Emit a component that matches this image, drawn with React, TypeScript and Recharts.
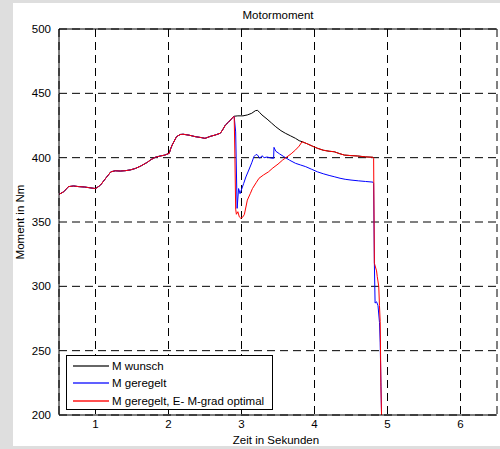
import React from 'react';
import { LineChart, Line, XAxis, YAxis, CartesianGrid, Legend } from 'recharts';

// shared part of all three curves (they lie on top of each other up to ~2.9 s)
const commonZeit = [
  0.5, 0.565, 0.63, 0.7, 0.77, 0.85, 0.91, 1.0, 1.04, 1.07, 1.14, 1.21, 1.27, 1.34, 1.41, 1.48, 1.55, 1.62,
  1.71, 1.76, 1.82, 1.88, 1.95, 2.01, 2.03, 2.05, 2.11, 2.16, 2.2, 2.28, 2.37, 2.45, 2.5, 2.57, 2.64, 2.71,
  2.74, 2.78, 2.82, 2.85, 2.89,
];
const commonMoment = [
  371.5, 373.5, 377.5, 378, 377.5, 377.2, 376.7, 376, 377.5, 378.8, 384, 389, 389.8, 389.6, 389.9, 390.5, 391.7, 393.5,
  396.4, 398.5, 400.3, 401.2, 402, 403.4, 407, 409.8, 416.3, 418, 418.2, 417.5, 416.3, 415.6, 415, 416.5, 417.6, 419,
  421.5, 425.4, 427.5, 429.3, 431.9,
];

// M wunsch after the split
const wunschZeit = [2.9, 2.95, 3.02, 3.08, 3.14, 3.19, 3.22, 3.25, 3.28, 3.35, 3.41, 3.47, 3.54, 3.6, 3.67, 3.74, 3.79, 3.83];
const wunschMoment = [432.2, 432.5, 432.5, 433.2, 434.5, 436.5, 436.8, 435, 433.2, 430, 427, 424, 421, 419, 417, 415, 413.2, 412.4];

// M geregelt after the split
const geregeltZeit = [
  2.9, 2.92, 2.94, 2.96, 2.98, 3.03, 3.06, 3.1, 3.14, 3.17, 3.2, 3.22, 3.25, 3.28, 3.31, 3.35, 3.4, 3.44, 3.445,
  3.47, 3.52, 3.58, 3.66, 3.74, 3.81, 3.88, 3.96, 4.04, 4.12, 4.2, 4.27, 4.35, 4.42, 4.5, 4.6, 4.7, 4.8,
  4.81, 4.82, 4.83, 4.85, 4.87, 4.89, 4.9, 4.91, 4.92,
];
const geregeltMoment = [
  431.9, 420, 360.6, 376, 372, 380, 385, 390.4, 396, 400.8, 402.5, 402, 399.5, 401.5, 400, 400.5, 399.8, 399.5, 408,
  405, 403, 400.8, 398, 395.6, 394.3, 393, 391, 389, 387.5, 386.2, 385.2, 384, 383.2, 382.6, 382, 381.5, 381,
  380, 318, 287, 288, 285, 272, 256, 225, 195,
];

// M geregelt, E- M-grad optimal after the split
const optimalZeit = [
  2.9, 2.91, 2.92, 2.93, 2.95, 2.97, 2.99, 3.02, 3.04, 3.08, 3.12, 3.15, 3.2, 3.24, 3.3, 3.37, 3.43, 3.5, 3.56,
  3.62, 3.68, 3.74, 3.79, 3.83,
];
const optimalMoment = [
  431.9, 400, 360, 356, 358, 354, 352.9, 354, 356, 367, 372, 376, 380.5, 384, 386.5, 389, 392, 395, 398,
  400.5, 403, 406, 409, 412.4,
];

// tail shared by wunsch and optimal (black lies under red)
const tailZeit = [3.9, 3.97, 4.04, 4.12, 4.2, 4.27, 4.34, 4.41, 4.5, 4.59, 4.7, 4.8];
const tailMoment = [410.8, 409, 407.3, 405.8, 405, 404.6, 403.2, 402, 401.6, 401.3, 400.6, 400.3];

// final drop of the red curve
const dropZeit = [4.81, 4.82, 4.85, 4.86, 4.88, 4.89, 4.9, 4.91, 4.92];
const dropMoment = [399.5, 318, 312, 307.5, 300, 285, 272.5, 222, 196];

const seriesNames = ['M wunsch', 'M geregelt', 'M geregelt, E- M-grad optimal'];
const seriesColors = ['#000000', '#0000ff', '#ff0000'];
// legend samples look softer in the original
const legendColors = ['#666666', '#6060ff', '#ff5050'];

const xTicks = [1, 2, 3, 4, 5, 6];
const yTicks = [200, 250, 300, 350, 400, 450, 500];

const toPoints = (zeit: number[], moment: number[]) => zeit.map((t, i) => ({ t, m: moment[i] }));

const wunschData = toPoints([...commonZeit, ...wunschZeit, ...tailZeit], [...commonMoment, ...wunschMoment, ...tailMoment]);
const geregeltData = toPoints([...commonZeit, ...geregeltZeit], [...commonMoment, ...geregeltMoment]);
const optimalData = toPoints(
  [...commonZeit, ...optimalZeit, ...tailZeit, ...dropZeit],
  [...commonMoment, ...optimalMoment, ...tailMoment, ...dropMoment]
);
const seriesData = [wunschData, geregeltData, optimalData];

const font = '"Liberation Sans", Arial, sans-serif';

function LegendBox() {
  return (
    <div
      style={{
        width: 207,
        height: 55,
        border: '1.5px solid #000',
        background: '#fff',
        fontFamily: font,
        fontSize: 11.5,
        color: '#000',
        paddingTop: 1,
        boxSizing: 'border-box',
      }}
    >
      {seriesNames.map((name, i) => (
        <div key={name} style={{ display: 'flex', alignItems: 'center', height: 17.5 }}>
          <div style={{ marginLeft: 6, width: 36, height: 2, background: legendColors[i] }} />
          <span style={{ marginLeft: 3, whiteSpace: 'nowrap' }}>{name}</span>
        </div>
      ))}
    </div>
  );
}

export default function App() {
  return (
    <div style={{ position: 'absolute', left: 0, top: 0, width: 500, height: 449, background: '#dedede' }}>
      <div style={{ position: 'absolute', left: 13, top: 3, width: 487, height: 443, background: '#fff' }} />
      <div style={{ position: 'absolute', left: 0, top: 0 }}>
        <LineChart width={500} height={449} margin={{ top: 0, right: 3, bottom: 0, left: 0 }}>
          <CartesianGrid stroke="#000" strokeDasharray="8 5" />
          <XAxis
            dataKey="t"
            type="number"
            domain={[0.5, 6.5]}
            ticks={xTicks}
            allowDataOverflow
            height={34}
            tickLine={false}
            tickSize={3}
            tickMargin={2}
            axisLine={{ stroke: '#000' }}
            tick={{ fill: '#000', fontSize: 11.5, fontFamily: font }}
            label={{ value: 'Zeit in Sekunden', position: 'insideBottom', offset: 5, dx: -2, fill: '#000', fontSize: 11.5, fontFamily: font }}
          />
          <XAxis
            xAxisId="top"
            orientation="top"
            type="number"
            domain={[0.5, 6.5]}
            height={29}
            tick={false}
            tickLine={false}
            axisLine={{ stroke: '#000' }}
            label={{ value: 'Motormoment', position: 'center', fill: '#000', fontSize: 11.5, fontFamily: font }}
          />
          <YAxis
            dataKey="m"
            type="number"
            domain={[200, 500]}
            ticks={yTicks}
            allowDataOverflow
            width={59}
            tickLine={false}
            axisLine={{ stroke: '#000' }}
            tick={{ fill: '#000', fontSize: 11.5, fontFamily: font }}
            label={{
              value: 'Moment in Nm',
              angle: -90,
              position: 'insideLeft',
              offset: 20,
              fill: '#000',
              fontSize: 11.5,
              fontFamily: font,
              style: { textAnchor: 'middle' },
            }}
          />
          <YAxis
            yAxisId="right"
            orientation="right"
            type="number"
            domain={[200, 500]}
            width={0}
            tick={false}
            tickLine={false}
            axisLine={{ stroke: '#000' }}
          />
          <Legend
            layout="vertical"
            align="center"
            verticalAlign="middle"
            wrapperStyle={{ left: 66, top: 355, width: 207 }}
            content={<LegendBox />}
          />
          {seriesData.map((d, i) => (
            <Line
              key={seriesNames[i]}
              data={d}
              dataKey="m"
              name={seriesNames[i]}
              stroke={seriesColors[i]}
              strokeWidth={1}
              dot={false}
              isAnimationActive={false}
            />
          ))}
        </LineChart>
      </div>
    </div>
  );
}
